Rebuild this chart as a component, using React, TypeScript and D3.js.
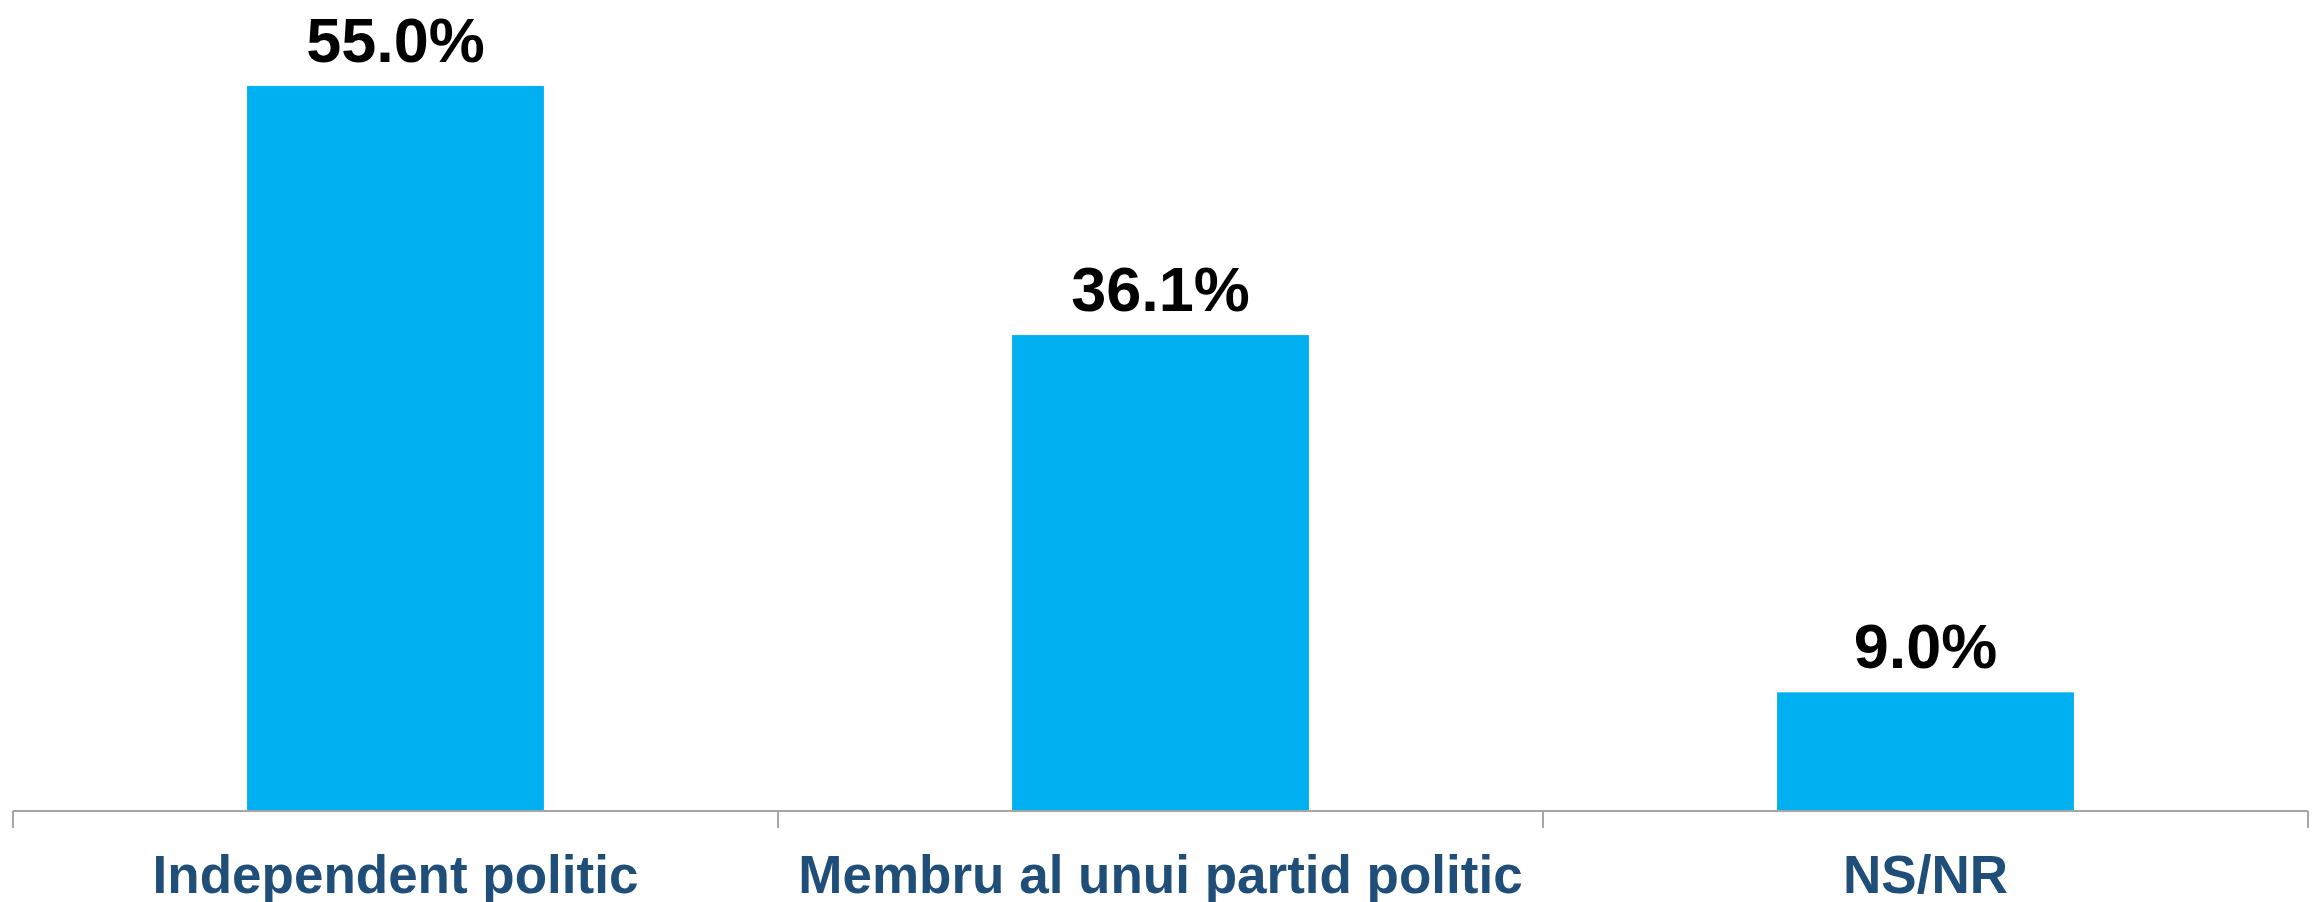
import { scaleBand, scaleLinear } from "d3";

// Share of respondents (%)
const categories = ["Independent politic", "Membru al unui partid politic", "NS/NR"];
const values = [55.0, 36.1, 9.0];
const valueLabels = ["55.0%", "36.1%", "9.0%"];

const WIDTH = 2318;
const HEIGHT = 902;
const FONT = "'Liberation Sans', Arial, sans-serif";

export default function App() {
  const x = scaleBand<string>()
    .domain(categories)
    .range([13, 2308])
    .paddingInner(0.612)
    .paddingOuter(0.306);

  // the paddings above move the bars; the band used for ticks is the full slot
  const slot = scaleBand<string>().domain(categories).range([13, 2308]);

  const y = scaleLinear().domain([0, 60]).range([811, 20]);

  return (
    <div style={{ position: "absolute", left: 0, top: 0 }}>
      <svg width={WIDTH} height={HEIGHT} style={{ display: "block", background: "#fff" }}>
        {/* Barras */}
        {categories.map((c, i) => (
          <rect
            key={c}
            x={x(c)}
            y={y(values[i])}
            width={x.bandwidth()}
            height={y(0) - y(values[i])}
            fill="#00B0F0"
          />
        ))}

        {/* Valores */}
        {categories.map((c, i) => (
          <text
            key={c}
            x={(slot(c) ?? 0) + slot.bandwidth() / 2}
            y={y(values[i]) - 24}
            textAnchor="middle"
            fontFamily={FONT}
            fontWeight="bold"
            fontSize={63}
            fill="#000"
          >
            {valueLabels[i]}
          </text>
        ))}

        {/* Eje X */}
        <line x1={13} x2={2308} y1={y(0)} y2={y(0)} stroke="#A6A6A6" strokeWidth={2} />
        {[...categories.map((c) => slot(c) ?? 0), 2308].map((tx, i) => (
          <line key={i} x1={tx} x2={tx} y1={y(0)} y2={y(0) + 17} stroke="#A6A6A6" strokeWidth={2} />
        ))}

        {/* Etiquetas */}
        {categories.map((c) => (
          <text
            key={c}
            x={(slot(c) ?? 0) + slot.bandwidth() / 2}
            y={893}
            textAnchor="middle"
            fontFamily={FONT}
            fontWeight="bold"
            fontSize={53}
            fill="#1F4E79"
          >
            {c}
          </text>
        ))}
      </svg>
    </div>
  );
}
